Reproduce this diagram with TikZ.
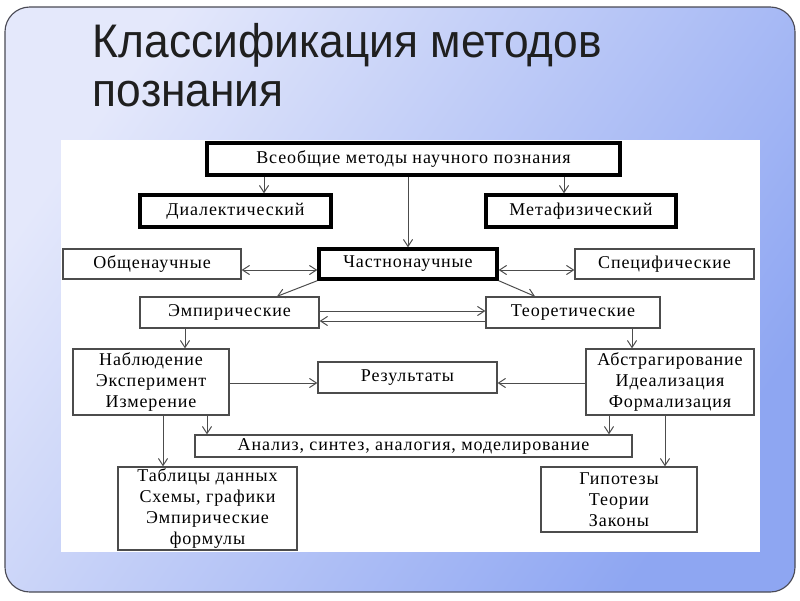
\documentclass[tikz,border=0pt]{standalone}
\usepackage{fontspec}
\usepackage{tikz}
\usetikzlibrary{arrows.meta}

\newfontfamily\diagfont[LetterSpace=5]{Liberation Serif}
\newfontfamily\titlefont[FakeStretch=0.94]{Liberation Sans}
\newcommand\px{0.025cm}

\definecolor{slidepale}{HTML}{E4E8FB}
\definecolor{slideblue}{HTML}{8EA6F2}
\definecolor{framegray}{HTML}{4A4A55}

\tikzset{
  box/.style={draw=black!70, line width=0.9pt, fill=white, inner sep=0pt,
    align=center, font=\diagfont\fontsize{12.8}{15}\selectfont},
  thickbox/.style={box, draw=black, line width=2.4pt},
  arr/.style={draw=black!70, line width=0.7pt, -{Straight Barb[length=5pt,width=6.5pt]}},
  darr/.style={arr, {Straight Barb[length=5pt,width=6.5pt]}-{Straight Barb[length=5pt,width=6.5pt]}}
}

\begin{document}
\begin{tikzpicture}[x=\px, y=-\px]
\useasboundingbox (0,0) rectangle (800,600);
\fill[white] (0,0) rectangle (800,600);
% slide background
\shade[rounded corners=0.62cm, top color=slidepale, bottom color=slideblue, shading angle=55]
  (5,7) rectangle (795,592);
\draw[framegray, line width=0.8pt, rounded corners=0.62cm] (5,7) rectangle (795,592);
\node[font=\titlefont\fontsize{33.5}{36}\selectfont, text=black!88, anchor=base west] (title) at (88,57) {Классификация методов};
\node[font=\titlefont\fontsize{33.5}{36}\selectfont, text=black!88, anchor=base west] (title2) at (88,106) {познания};
\fill[white] (61,140) rectangle (760,552);

% boxes
\node[thickbox, minimum width=413*\px, minimum height=32*\px] (vseob) at (413.5,159) {Всеобщие методы научного познания};
\node[thickbox, minimum width=191*\px, minimum height=32*\px] (dial) at (235.5,211) {Диалектический};
\node[thickbox, minimum width=190*\px, minimum height=32*\px] (metaf) at (581,211) {Метафизический};
\node[box, minimum width=178*\px, minimum height=30*\px] (obsch) at (152,264) {Общенаучные};
\node[thickbox, minimum width=178*\px, minimum height=30*\px] (chast) at (408,264) {Частнонаучные};
\node[box, minimum width=179*\px, minimum height=30*\px] (spec) at (664.5,264) {Специфические};
\node[box, minimum width=179*\px, minimum height=31*\px] (empir) at (229.5,312.5) {Эмпирические};
\node[box, minimum width=174*\px, minimum height=31*\px] (teor) at (573,312.5) {Теоретические};
\node[box, minimum width=156*\px, minimum height=66*\px] (nabl) at (151,382) {Наблюдение\\Эксперимент\\Измерение};
\node[box, minimum width=179*\px, minimum height=31*\px] (rez) at (407.5,377.5) {Результаты};
\node[box, minimum width=168*\px, minimum height=66*\px] (abstr) at (670,382) {Абстрагирование\\Идеализация\\Формализация};
\node[box, minimum width=437*\px, minimum height=22*\px] (analiz) at (413.5,446) {Анализ, синтез, аналогия, моделирование};
\node[box, minimum width=179*\px, minimum height=83*\px] (tabl) at (207.5,508.5) {Таблицы данных\\Схемы, графики\\Эмпирические\\формулы};
\node[box, minimum width=156*\px, minimum height=65*\px] (gipot) at (619,499.5) {Гипотезы\\Теории\\Законы};

% connectors
\draw[arr] (vseob.south -| 264,0) -- (dial.north -| 264,0);
\draw[arr] (vseob.south -| 564,0) -- (metaf.north -| 564,0);
\draw[arr] (vseob.south -| 408,0) -- (chast.north);
\draw[darr] (obsch.east |- 0,270) -- (chast.west |- 0,270);
\draw[darr] (chast.east |- 0,270) -- (spec.west |- 0,270);
\draw[arr] (chast.south west) -- (empir.north -| 277,0);
\draw[arr] (chast.south east) -- (teor.north -| 535,0);
\draw[arr] (empir.east |- 0,311) -- (teor.west |- 0,311);
\draw[arr] (teor.west |- 0,321) -- (empir.east |- 0,321);
\draw[arr] (empir.south -| 185,0) -- (nabl.north -| 185,0);
\draw[arr] (teor.south -| 632,0) -- (abstr.north -| 632,0);
\draw[arr] (nabl.east |- 0,383) -- (rez.west |- 0,383);
\draw[arr] (abstr.west |- 0,383) -- (rez.east |- 0,383);
\draw[arr] (nabl.south -| 207,0) -- (analiz.north -| 207,0);
\draw[arr] (abstr.south -| 609,0) -- (analiz.north -| 609,0);
\draw[arr] (nabl.south -| 163,0) -- (tabl.north -| 163,0);
\draw[arr] (abstr.south -| 665,0) -- (gipot.north -| 665,0);
\end{tikzpicture}
\end{document}
